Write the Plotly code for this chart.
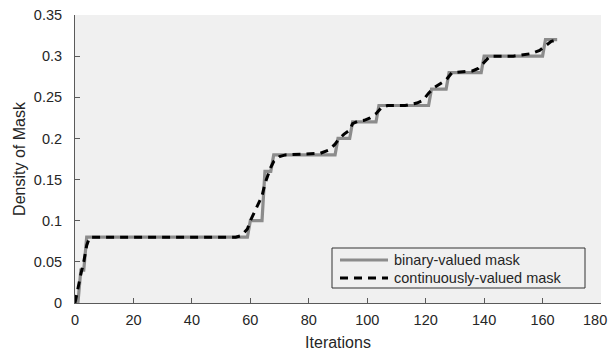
import plotly.graph_objects as go

# Binary-valued mask density: vertices of the step curve (iteration, density)
binary_iter = [1, 2, 3, 4, 59, 60, 64, 65, 67, 68, 89, 90, 94, 95, 103, 104,
               121, 122, 127, 128, 139, 140, 160, 161, 165]
binary_density = [0.0, 0.04, 0.04, 0.08, 0.08, 0.10, 0.10, 0.16, 0.16, 0.18,
                  0.18, 0.20, 0.20, 0.22, 0.22, 0.24, 0.24, 0.26, 0.26, 0.28,
                  0.28, 0.30, 0.30, 0.32, 0.32]

# Continuously-valued mask density
cont_iter = [0, 1, 2, 3, 4, 5, 55, 57, 59, 60, 62, 64, 65, 66, 67, 68, 70, 72,
             84, 87, 89, 90, 92, 94, 95, 97, 99, 101, 103, 105, 107, 113, 117,
             119, 121, 123, 125, 127, 129, 133, 136, 138, 140, 142, 150, 156,
             159, 161, 163, 165]
cont_density = [0.0, 0.02, 0.035, 0.05, 0.07, 0.08, 0.08, 0.082, 0.09, 0.10,
                0.115, 0.13, 0.145, 0.155, 0.165, 0.172, 0.178, 0.18, 0.182,
                0.186, 0.193, 0.198, 0.205, 0.21, 0.218, 0.221, 0.222, 0.225,
                0.23, 0.238, 0.24, 0.24, 0.243, 0.246, 0.255, 0.262, 0.266,
                0.271, 0.28, 0.281, 0.282, 0.285, 0.293, 0.30, 0.30, 0.303,
                0.307, 0.313, 0.318, 0.32]

series_names = ["binary-valued mask", "continuously-valued mask"]

x_ticks = [0, 20, 40, 60, 80, 100, 120, 140, 160, 180]
x_tick_text = ["0", "20", "40", "60", "80", "100", "120", "140", "160", "180"]
y_ticks = [0, 0.05, 0.1, 0.15, 0.2, 0.25, 0.3, 0.35]
y_tick_text = ["0", "0.05", "0.1", "0.15", "0.2", "0.25", "0.3", "0.35"]

FONT = "Liberation Sans, Arial, sans-serif"
TEXT = "#262626"
AXIS = "#5a5a5a"
GRAY = "rgb(140,140,140)"
W, H = 611, 351
L, R, T, B = 75, 10, 15, 48
PW, PH = W - L - R, H - T - B

styles = [dict(color=GRAY, width=3.2), dict(color="black", width=3, dash="8px,6px")]

fig = go.Figure()
fig.add_trace(go.Scatter(x=binary_iter, y=binary_density, mode="lines",
                         name=series_names[0], line=styles[0], showlegend=False))
fig.add_trace(go.Scatter(x=cont_iter, y=cont_density, mode="lines",
                         name=series_names[1], line=styles[1], showlegend=False))


def px_x(p):
    return (p - L) / PW


def px_y(p):
    return (H - B - p) / PH


# Legend box in the lower right of the axes
shapes = [dict(type="rect", xref="paper", yref="paper",
               x0=px_x(332), x1=px_x(585), y0=px_y(288), y1=px_y(248),
               fillcolor="#f0f0f0", line=dict(color="#333333", width=1),
               layer="above")]
annotations = []
for i, (name, st) in enumerate(zip(series_names, styles)):
    yc = 260 + i * 18
    shapes.append(dict(type="line", xref="paper", yref="paper",
                       x0=px_x(340), x1=px_x(388), y0=px_y(yc), y1=px_y(yc),
                       line=dict(color=st["color"], width=st["width"],
                                 dash=st.get("dash", "solid")),
                       layer="above"))
    annotations.append(dict(xref="paper", yref="paper", x=px_x(392), y=px_y(yc),
                            xanchor="left", yanchor="middle", showarrow=False,
                            text=name, font=dict(size=14.5, color=TEXT)))

# Last x tick label sits just inside the right edge of the figure
annotations.append(dict(xref="x", yref="paper", x=180, y=0, yanchor="top",
                        xanchor="center", xshift=-6, yshift=-7, showarrow=False,
                        text=x_tick_text[-1], font=dict(size=14.5, color=TEXT)))

fig.update_layout(
    width=W, height=H,
    margin=dict(l=L, r=R, t=T, b=B),
    paper_bgcolor="white",
    plot_bgcolor="#f0f0f0",
    font=dict(family=FONT, size=14.5, color=TEXT),
    showlegend=False,
    shapes=shapes,
    annotations=annotations,
    xaxis=dict(
        range=[0, 180], tickvals=x_ticks[:-1], ticktext=x_tick_text[:-1],
        showgrid=False, zeroline=False, automargin=False,
        showline=True, linecolor=AXIS, linewidth=1,
        ticks="inside", ticklen=5, tickcolor=AXIS,
        ticklabelstandoff=4,
        title=dict(text="Iterations", font=dict(size=16), standoff=10),
    ),
    yaxis=dict(
        range=[0, 0.35], tickvals=y_ticks, ticktext=y_tick_text,
        showgrid=False, zeroline=False, automargin=False,
        showline=True, linecolor=AXIS, linewidth=1,
        ticks="inside", ticklen=5, tickcolor=AXIS,
        ticklabelstandoff=9,
        title=dict(text="Density of Mask", font=dict(size=16), standoff=4),
    ),
)

fig.write_html("out.html")
